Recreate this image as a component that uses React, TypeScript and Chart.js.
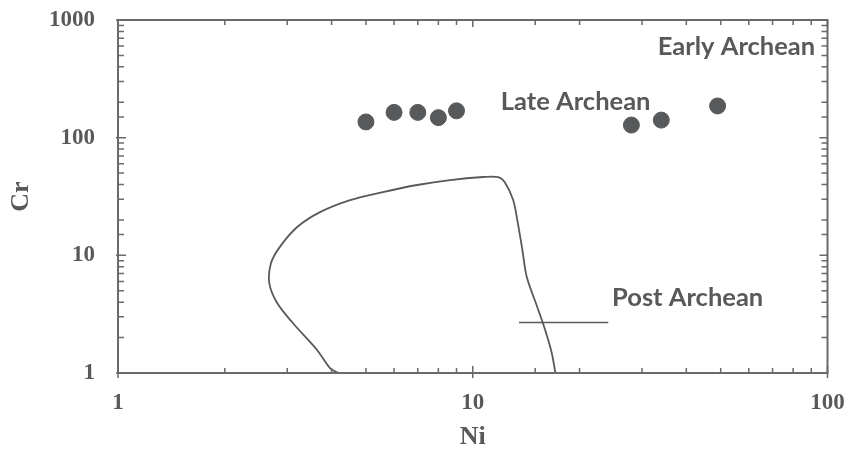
import React, { useEffect, useRef } from "react";
import { Chart, registerables } from "chart.js";

Chart.register(...registerables);

// Sample points (Ni, Cr)
const niValues = [5, 6, 7, 8, 9, 28, 34, 49];
const crValues = [136, 164, 164, 148, 169, 128, 141, 186];

// Post-Archean field boundary (Ni, Cr)
const boundaryNi = [4.17, 3.96, 3.64, 3.11, 2.81, 2.67, 2.7, 2.86, 3.2, 3.71, 4.51, 5.58, 6.97, 8.63, 10.7, 11.8, 12.3, 13.0, 13.4, 13.8, 14.2, 15.2, 16.0, 16.7, 17.1];
const boundaryCr = [1.0, 1.1, 1.57, 2.66, 3.93, 5.81, 8.6, 11.8, 17.4, 23.3, 29.5, 34.5, 39.6, 43.6, 46.3, 46.3, 42.0, 29.5, 18.8, 11.1, 6.54, 3.64, 2.32, 1.48, 1.0];

// Leader line for the Post Archean label
const leaderNi = [13.5, 24.1];
const leaderCr = [2.68, 2.68];

// Field labels and their anchors (data coordinates)
const fieldLabels = ["Early Archean", "Late Archean", "Post Archean"];
const fieldLabelNi = [92.3, 19.5, 24.7];
const fieldLabelCr = [589, 203, 4.36];
const fieldLabelAlign = ["right", "center", "left"];

const xRange = [1, 100];
const yRange = [1, 1000];
const xTitle = "Ni";
const yTitle = "Cr";

const GREY = "#595959";
const AXIS = "#6a6a6a";

const isPow10 = (v: number) => {
  const l = Math.log10(v);
  return Math.abs(l - Math.round(l)) < 1e-6;
};

const framePlugin = {
  id: "frameTicks",
  afterDraw(chart: any) {
    const { ctx, chartArea, scales } = chart;
    const { left, right, top, bottom } = chartArea;
    const x = scales.x;
    const y = scales.y;
    ctx.save();
    ctx.strokeStyle = AXIS;
    ctx.lineWidth = 2;
    ctx.strokeRect(left, top, right - left, bottom - top);
    ctx.lineWidth = 1.5;
    ctx.beginPath();
    x.ticks.forEach((t: any) => {
      const px = x.getPixelForValue(t.value);
      const major = isPow10(t.value);
      ctx.moveTo(px, bottom + (major ? 5 : 0));
      ctx.lineTo(px, bottom - (major ? 7 : 5));
      ctx.moveTo(px, top);
      ctx.lineTo(px, top + (major ? 7 : 5));
    });
    y.ticks.forEach((t: any) => {
      const py = y.getPixelForValue(t.value);
      const major = isPow10(t.value);
      ctx.moveTo(left - (major ? 2 : 0), py);
      ctx.lineTo(left + (major ? 8 : 6), py);
      ctx.moveTo(right, py);
      ctx.lineTo(right - (major ? 8 : 6), py);
    });
    ctx.stroke();

    // field labels
    ctx.fillStyle = GREY;
    ctx.font = "bold 25.5px Lato";
    ctx.textBaseline = "middle";
    fieldLabels.forEach((label, i) => {
      ctx.textAlign = fieldLabelAlign[i] as CanvasTextAlign;
      ctx.fillText(label, x.getPixelForValue(fieldLabelNi[i]), y.getPixelForValue(fieldLabelCr[i]));
    });
    ctx.restore();
  },
};

export default function App() {
  const ref = useRef<HTMLCanvasElement | null>(null);

  useEffect(() => {
    if (!ref.current) return;
    const tickFont = { family: "Liberation Serif", size: 23, weight: "bold" as const };
    const chart = new Chart(ref.current, {
      type: "scatter",
      data: {
        datasets: [
          {
            label: "Samples",
            data: niValues.map((v, i) => ({ x: v, y: crValues[i] })),
            backgroundColor: "#58595b",
            borderColor: "#58595b",
            pointRadius: 8,
            showLine: false,
          },
          {
            label: "Post Archean field",
            data: boundaryNi.map((v, i) => ({ x: v, y: boundaryCr[i] })),
            showLine: true,
            borderColor: GREY,
            borderWidth: 1.8,
            pointRadius: 0,
            tension: 0.3,
            fill: false,
          },
          {
            label: "Leader",
            data: leaderNi.map((v, i) => ({ x: v, y: leaderCr[i] })),
            showLine: true,
            borderColor: GREY,
            borderWidth: 1.5,
            pointRadius: 0,
            fill: false,
          },
        ],
      },
      options: {
        animation: false,
        responsive: false,
        layout: { padding: { top: 20, right: 19.5, left: 0, bottom: 0 } },
        plugins: { legend: { display: false }, tooltip: { enabled: false } },
        scales: {
          x: {
            type: "logarithmic",
            min: xRange[0],
            max: xRange[1],
            grid: { display: false, drawTicks: false },
            border: { display: false },
            afterFit: (s: any) => {
              s.height = 80;
              s.paddingLeft = 0;
              s.paddingRight = 0;
            },
            ticks: {
              autoSkip: false,
              maxRotation: 0,
              padding: 16,
              color: GREY,
              font: tickFont,
              callback: (v: any) => (isPow10(Number(v)) ? String(Math.round(Number(v))) : ""),
            },
            title: {
              display: true,
              text: xTitle,
              color: GREY,
              font: { family: "Liberation Serif", size: 26, weight: "bold" },
              padding: { top: 0, bottom: 0 },
            },
          },
          y: {
            type: "logarithmic",
            min: yRange[0],
            max: yRange[1],
            grid: { display: false, drawTicks: false },
            border: { display: false },
            afterFit: (s: any) => {
              s.width = 118;
              s.paddingTop = 0;
              s.paddingBottom = 0;
            },
            ticks: {
              autoSkip: false,
              padding: 23,
              color: GREY,
              font: tickFont,
              callback: (v: any) => (isPow10(Number(v)) ? String(Math.round(Number(v))) : ""),
            },
            title: {
              display: true,
              text: yTitle,
              color: GREY,
              font: { family: "Liberation Serif", size: 26, weight: "bold" },
              padding: { top: 6, bottom: 0 },
            },
          },
        },
      },
      plugins: [framePlugin],
    });
    return () => chart.destroy();
  }, []);

  return (
    <div style={{ position: "fixed", left: 0, top: 0, width: 847, height: 453, background: "#fff" }}>
      <canvas ref={ref} width={847} height={453} />
    </div>
  );
}
